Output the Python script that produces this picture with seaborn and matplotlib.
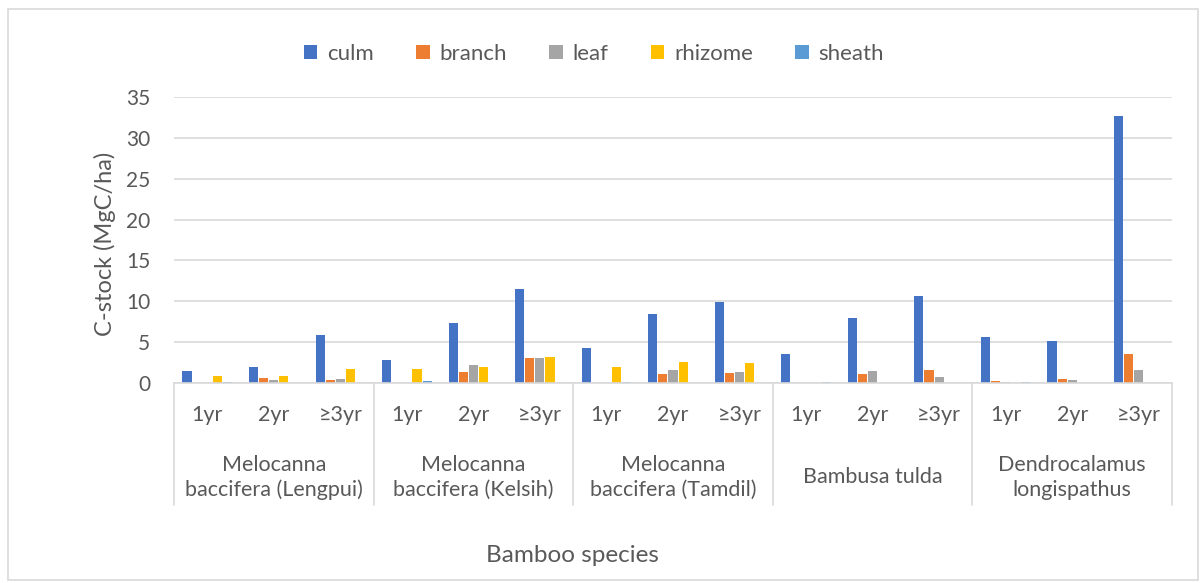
import numpy as np
import pandas as pd
import seaborn as sns
import matplotlib.pyplot as plt
from matplotlib.patches import Rectangle
from matplotlib.lines import Line2D

# ---- data -------------------------------------------------------------
species = [
    "Melocanna\nbaccifera (Lengpui)",
    "Melocanna\nbaccifera (Kelsih)",
    "Melocanna\nbaccifera (Tamdil)",
    "Bambusa tulda",
    "Dendrocalamus\nlongispathus",
]
ages = ["1yr", "2yr", "≥3yr"]
components = ["culm", "branch", "leaf", "rhizome", "sheath"]

# C-stock (MgC/ha), one value per species x age class
culm    = [1.5, 2.0, 5.9,  2.8, 7.4, 11.5,  4.3, 8.4, 9.95,  3.6, 8.0, 10.7,  5.6, 5.2, 32.7]
branch  = [0.0, 0.6, 0.4,  0.0, 1.3, 3.1,   0.0, 1.05, 1.2,  0.0, 1.05, 1.6,  0.2, 0.45, 3.5]
leaf    = [0.0, 0.4, 0.45, 0.0, 2.25, 3.0,  0.0, 1.55, 1.3,  0.0, 1.5, 0.7,   0.1, 0.4, 1.65]
rhizome = [0.9, 0.8, 1.7,  1.7, 1.9, 3.15,  2.0, 2.6, 2.4,   0.0, 0.0, 0.0,   0.0, 0.0, 0.0]
sheath  = [0.1, 0.0, 0.0,  0.3, 0.0, 0.0,   0.12, 0.0, 0.0,  0.17, 0.0, 0.0,  0.1, 0.0, 0.0]

colors = ["#4472C4", "#ED7D31", "#A5A5A5", "#FFC000", "#5B9BD5"]

# ---- long-form table ----------------------------------------------------
series = dict(zip(components, [culm, branch, leaf, rhizome, sheath]))
rows = []
for comp in components:
    for i, v in enumerate(series[comp]):
        rows.append({"slot": i, "component": comp, "value": v})
df = pd.DataFrame(rows)

# ---- style --------------------------------------------------------------
sns.set_style("white")
plt.rcParams["font.family"] = ["Lato", "DejaVu Sans"]
txt = "#595959"
grid_c = "#D9D9D9"

W, H = 1203, 583
fig = plt.figure(figsize=(W / 100, H / 100), dpi=100)
ax = fig.add_axes([174 / W, 1 - 383 / H, (1172 - 174) / W, (383 - 97) / H])

sns.barplot(data=df, x="slot", y="value", hue="component", hue_order=components,
            palette=colors, saturation=1, width=0.76, gap=0.1, linewidth=0,
            ax=ax, order=list(range(len(culm))))

handles, labels = ax.get_legend_handles_labels()
ax.get_legend().remove()

ax.set_ylim(0, 35)
ax.set_xlim(-0.5, len(culm) - 0.5)
ax.set_yticks(np.arange(0, 36, 5))
ax.yaxis.grid(True, color=grid_c, lw=1.2)
ax.set_axisbelow(True)
for s in ["top", "right", "left"]:
    ax.spines[s].set_visible(False)
ax.spines["bottom"].set_color(grid_c)
ax.spines["bottom"].set_linewidth(1.2)
ax.tick_params(axis="y", length=0, pad=17, labelsize=15, labelcolor=txt)
ax.set_xticks([])
ax.set_xlabel("")
ax.set_ylabel("")

# two-level category axis
xt = ax.get_xaxis_transform()
for g, name in enumerate(species):
    for a, age in enumerate(ages):
        ax.text(g * 3 + a, -0.112, age, transform=xt, ha="center", va="center",
                fontsize=15.5, color=txt)
    ax.text(g * 3 + 1, -0.33, name, transform=xt, ha="center", va="center",
            fontsize=15.5, color=txt, linespacing=1.3)
for b in np.arange(-0.5, len(culm), 3):
    ax.add_line(Line2D([b, b], [0, -0.427], transform=xt, color=grid_c,
                       lw=1.2, clip_on=False))

# axis titles
fig.text(105 / W, 1 - 244 / H, "C-stock (MgC/ha)", rotation=90, ha="center",
         va="center", fontsize=17, color=txt)
fig.text(572 / W, 1 - 556 / H, "Bamboo species", ha="center", va="center",
         fontsize=17.5, color=txt)

# legend
fig.legend(handles, labels, ncol=5, loc="center",
           bbox_to_anchor=(594 / W, 1 - 54 / H), frameon=False,
           handlelength=0.6, handleheight=0.6, columnspacing=1.9,
           handletextpad=0.45, fontsize=16, labelcolor=txt)

# chart border
fig.patches.append(Rectangle((8 / W, 3 / H), 1190 / W, (580 - 9) / H,
                             transform=fig.transFigure, fill=False,
                             edgecolor=grid_c, lw=1.2))

fig.savefig("out.png", dpi=100)
